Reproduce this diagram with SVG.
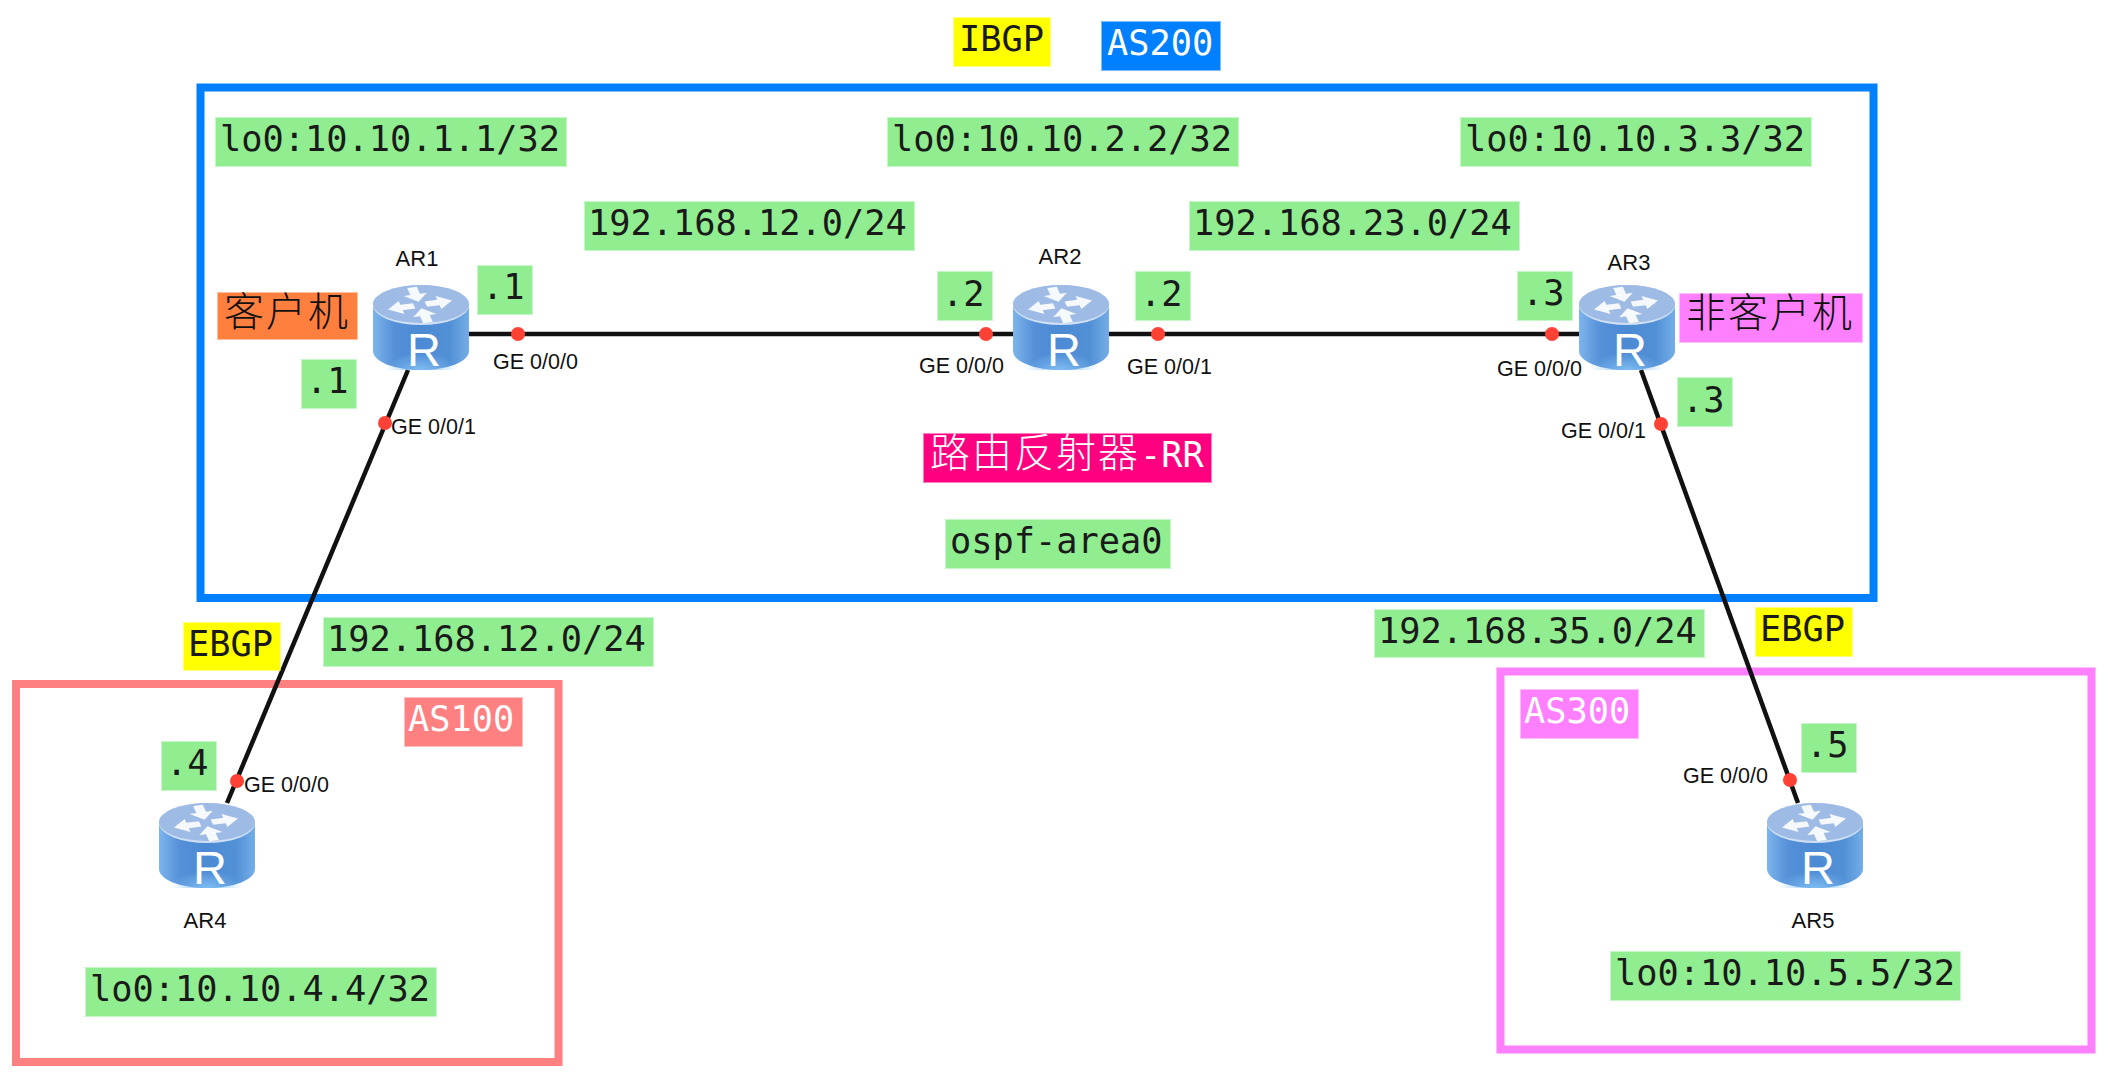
<svg xmlns="http://www.w3.org/2000/svg" width="2114" height="1072" viewBox="0 0 2114 1072">
<style>
.m{font-family:"DejaVu Sans Mono","Liberation Mono",monospace;font-size:35.3px;fill:#1a1a1a}
.c{font-family:"Noto Sans CJK SC","DejaVu Sans",sans-serif;font-size:40px;font-weight:300;letter-spacing:2px;fill:#111}
.w{fill:#fff}
.s{font-family:"Liberation Sans",Arial,sans-serif;font-size:21.5px;fill:#111}
.n{text-anchor:middle;font-size:22px}
.g{fill:#90ee90;stroke:#90ee90}
.y{fill:#ff0;stroke:#ff0}
.b{fill:#0080ff;stroke:#0080ff}
.r{fill:#ff8080;stroke:#ff8080}
.p{fill:#ff80ff;stroke:#ff80ff}
.o{fill:#ff7f3f;stroke:#ff7f3f}
.h{fill:#ff0080;stroke:#ff0080}
.g,.y,.b,.r,.p,.o,.h{stroke-width:2;stroke-opacity:.5}
.f{fill:none;stroke-width:8}
.l{stroke:#111;stroke-width:4.500;fill:none}
.d{fill:#ff4136}
</style>
<defs>
<linearGradient id="side" x1="0" x2="1" y1="0" y2="0">
<stop offset="0" stop-color="#7db5ec"/><stop offset=".22" stop-color="#5590d8"/><stop offset=".5" stop-color="#4c8ad4"/><stop offset=".8" stop-color="#5290d6"/><stop offset="1" stop-color="#74aee8"/>
</linearGradient>
<radialGradient id="glow" cx=".5" cy="1" r=".5">
<stop offset="0" stop-color="#82c0f5" stop-opacity=".95"/><stop offset="1" stop-color="#82c0f5" stop-opacity="0"/>
</radialGradient>
<path id="ao" d="M6-5H19V-12L33 0 19 12V5H6Z" fill="#fff"/>
<path id="ai" d="M33-5H20V-12L6 0 20 12V5H33Z" fill="#fff"/>
<g id="router">
<path d="M0 19V66C0 77 22 85 48 85S96 77 96 66V19Z" fill="url(#side)"/>
<path d="M12 50H84V85H12Z" fill="url(#glow)"/>
<ellipse cx="48" cy="20" rx="48" ry="20" fill="#cfe0f5"/>
<ellipse cx="48" cy="19" rx="48" ry="19" fill="#9dbbe4"/>
<g transform="translate(47 20) scale(1 .55) rotate(-14)" opacity=".9">
<use href="#ao"/>
<use href="#ao" transform="rotate(180)"/>
<use href="#ai" transform="rotate(90)"/>
<use href="#ai" transform="rotate(-90)"/>
</g>
<text x="51" y="81" text-anchor="middle" font-family="Liberation Sans,Arial,sans-serif" font-size="47" fill="#fff">R</text>
</g>
</defs>
<rect width="2114" height="1072" fill="#fff"/>
<g id="frames">
<rect id="as200-frame" class="f" x="200.500" y="87.500" width="1673" height="510.500" stroke="#0080ff"/>
<rect id="as100-frame" class="f" x="16" y="684" width="542.500" height="378" stroke="#ff8080"/>
<rect id="as300-frame" class="f" x="1500.500" y="671.500" width="591" height="378" stroke="#ff80ff"/>
</g>
<g id="connectors">
<path class="l" d="M468 334H1013"/>
<path class="l" d="M1109 334H1579"/>
<path class="l" d="M408 370L227 803"/>
<path class="l" d="M1641 370L1798 803"/>
<circle class="d" cx="518" cy="334" r="7"/>
<circle class="d" cx="986" cy="334" r="7"/>
<circle class="d" cx="1158" cy="334" r="7"/>
<circle class="d" cx="1552" cy="334" r="7"/>
<circle class="d" cx="385" cy="423" r="7"/>
<circle class="d" cx="237" cy="781" r="7"/>
<circle class="d" cx="1661" cy="424" r="7"/>
<circle class="d" cx="1790" cy="780" r="7"/>
</g>
<g id="AR1"><use href="#router" x="373" y="285"/><text class="s n" x="417" y="266">AR1</text></g>
<g id="AR2"><use href="#router" x="1013" y="285"/><text class="s n" x="1060" y="264">AR2</text></g>
<g id="AR3"><use href="#router" x="1579" y="285"/><text class="s n" x="1629" y="270">AR3</text></g>
<g id="AR4"><use href="#router" x="159" y="803"/><text class="s n" x="205" y="928">AR4</text></g>
<g id="AR5"><use href="#router" x="1767" y="803"/><text class="s n" x="1813" y="928">AR5</text></g>
<g id="interfaces">
<text class="s" x="493" y="369">GE 0/0/0</text>
<text class="s" x="391" y="434">GE 0/0/1</text>
<text class="s" x="919" y="373">GE 0/0/0</text>
<text class="s" x="1127" y="374">GE 0/0/1</text>
<text class="s" x="1497" y="376">GE 0/0/0</text>
<text class="s" x="1561" y="438">GE 0/0/1</text>
<text class="s" x="244" y="792">GE 0/0/0</text>
<text class="s" x="1683" y="783">GE 0/0/0</text>
</g>
<g id="labels">
<rect class="y" x="954" y="18" width="96" height="48"/><text class="m" x="959" y="51">IBGP</text>
<rect class="b" x="1102" y="22" width="118" height="48"/><text class="m w" x="1107" y="55">AS200</text>
<rect class="g" x="216" y="118" width="350" height="48"/><text class="m" x="220" y="151">lo0:10.10.1.1/32</text>
<rect class="g" x="888" y="118" width="350" height="48"/><text class="m" x="892" y="151">lo0:10.10.2.2/32</text>
<rect class="g" x="1461" y="118" width="350" height="48"/><text class="m" x="1465" y="151">lo0:10.10.3.3/32</text>
<rect class="g" x="585" y="202" width="329" height="48"/><text class="m" x="588" y="235">192.168.12.0/24</text>
<rect class="g" x="1190" y="202" width="329" height="48"/><text class="m" x="1193" y="235">192.168.23.0/24</text>
<rect class="g" x="478" y="266" width="54" height="48"/><text class="m" x="482" y="299">.1</text>
<rect class="g" x="302" y="360" width="54" height="48"/><text class="m" x="306" y="393">.1</text>
<rect class="g" x="938" y="272" width="54" height="48"/><text class="m" x="942" y="306">.2</text>
<rect class="g" x="1136" y="272" width="54" height="48"/><text class="m" x="1140" y="306">.2</text>
<rect class="g" x="1518" y="272" width="54" height="48"/><text class="m" x="1522" y="305">.3</text>
<rect class="g" x="1678" y="378" width="54" height="48"/><text class="m" x="1682" y="412">.3</text>
<rect class="g" x="162" y="742" width="54" height="48"/><text class="m" x="166" y="775">.4</text>
<rect class="g" x="1802" y="724" width="54" height="48"/><text class="m" x="1806" y="757">.5</text>
<rect class="o" x="218" y="293" width="139" height="46"/><text class="c" x="224" y="326">客户机</text>
<rect class="p" x="1680" y="294" width="182" height="48"/><text class="c" x="1686" y="327">非客户机</text>
<rect class="h" x="924" y="434" width="287" height="48"/><text class="m w" x="930" y="467"><tspan class="c w" style="font-size:40px">路由反射器</tspan>-RR</text>
<rect class="g" x="946" y="520" width="224" height="48"/><text class="m" x="950" y="553">ospf-area0</text>
<rect class="y" x="184" y="623" width="96" height="47"/><text class="m" x="188" y="656">EBGP</text>
<rect class="g" x="324" y="618" width="329" height="48"/><text class="m" x="327" y="651">192.168.12.0/24</text>
<rect class="r" x="405" y="698" width="117" height="48"/><text class="m w" x="408" y="731">AS100</text>
<rect class="g" x="86" y="968" width="350" height="48"/><text class="m" x="90" y="1001">lo0:10.10.4.4/32</text>
<rect class="g" x="1375" y="610" width="329" height="47"/><text class="m" x="1378" y="643">192.168.35.0/24</text>
<rect class="y" x="1756" y="608" width="96" height="48"/><text class="m" x="1760" y="641">EBGP</text>
<rect class="p" x="1521" y="690" width="117" height="48"/><text class="m w" x="1524" y="723">AS300</text>
<rect class="g" x="1611" y="952" width="349" height="48"/><text class="m" x="1615" y="985">lo0:10.10.5.5/32</text>
</g>
</svg>
